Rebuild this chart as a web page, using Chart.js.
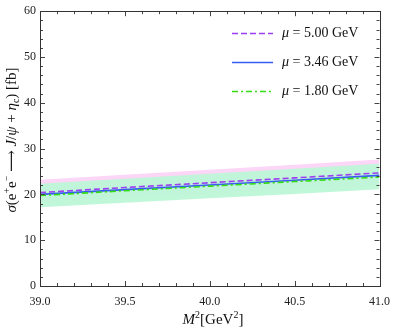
<!DOCTYPE html>
<html><head><meta charset="utf-8">
<script src="https://cdn.jsdelivr.net/npm/chart.js@4.4.0/dist/chart.umd.min.js"></script>
<style>html,body{margin:0;padding:0;background:#fff}#w{width:399px;height:334px}</style>
</head><body><div id="w"><canvas id="c"></canvas></div>
<script>
const xs = [39.0, 39.5, 40.0, 40.5, 41.0];
const mu500 = [20.4, 21.5, 22.55, 23.6, 24.7];
const mu346 = [20.0, 21.05, 22.05, 23.1, 24.15];
const mu180 = [19.75, 20.8, 21.8, 22.8, 23.8];
const pinkLow = [18.4, 19.3, 20.2, 21.1, 22.0];
const pinkHigh = [23.2, 24.3, 25.4, 26.5, 27.6];
const greenLow = [17.2, 18.2, 19.15, 20.1, 21.1];
const greenHigh = [22.3, 23.4, 24.5, 25.6, 26.7];
const yTicks = [0, 10, 20, 30, 40, 50, 60];
const xTicks = [39.0, 39.5, 40.0, 40.5, 41.0];
const legendLabels = ["5.00", "3.46", "1.80"];

const pts = a => a.map((v, i) => ({x: xs[i], y: v}));
const SERIF = '"Liberation Serif","DejaVu Serif",serif';

const band = (data, fill, color) => ({data: pts(data), borderWidth: 0, pointRadius: 0, fill: fill, backgroundColor: color, tension: 0});
const line = (data, color, dash, w) => ({data: pts(data), borderColor: color, borderDash: dash, borderWidth: w, pointRadius: 0, fill: false, tension: 0});

const datasets = [
  band(greenLow, false, 'rgba(0,0,0,0)'),
  band(greenHigh, '-1', 'rgba(190,247,215,0.95)'),
  band(pinkLow, false, 'rgba(0,0,0,0)'),
  band(pinkHigh, '-1', 'rgba(252,214,246,1)'),
  line(mu180, '#33dd11', [6, 3, 2, 3], 1.6),
  line(mu346, '#3a5cf2', [], 1.6),
  line(mu500, '#9b3ff0', [6, 3], 1.6)
];

function drawRuns(ctx, runs, x, y, align) {
  let total = 0;
  runs.forEach(r => { ctx.font = r[1] + ' ' + r[2] + 'px ' + SERIF; total += ctx.measureText(r[0]).width; });
  let cx = align === 'center' ? x - total / 2 : x;
  ctx.textBaseline = 'middle';
  ctx.textAlign = 'left';
  runs.forEach(r => {
    ctx.font = r[1] + ' ' + r[2] + 'px ' + SERIF;
    ctx.fillText(r[0], cx, y + (r[3] || 0));
    cx += ctx.measureText(r[0]).width;
  });
}

const deco = {
  id: 'deco',
  afterDraw(chart) {
    const ctx = chart.ctx, a = chart.chartArea;
    const xs_ = chart.scales.x, ys_ = chart.scales.y;
    ctx.save();
    ctx.strokeStyle = '#444';
    ctx.lineWidth = 1;
    ctx.beginPath();
    for (let k = 0; k <= 20; k++) {
      const v = 39 + k * 0.1;
      const px = Math.round(xs_.getPixelForValue(v)) + 0.5;
      const len = (k % 5 === 0) ? 5 : 3;
      ctx.moveTo(px, a.bottom); ctx.lineTo(px, a.bottom - len);
      ctx.moveTo(px, a.top); ctx.lineTo(px, a.top + len);
    }
    for (let k = 0; k <= 30; k++) {
      const v = k * 2;
      const py = Math.round(ys_.getPixelForValue(v)) + 0.5;
      const len = (k % 5 === 0) ? 5 : 3;
      ctx.moveTo(a.left, py); ctx.lineTo(a.left + len, py);
      ctx.moveTo(a.right, py); ctx.lineTo(a.right - len, py);
    }
    ctx.stroke();
    ctx.strokeStyle = '#333';
    ctx.strokeRect(Math.round(a.left) + 0.5, Math.round(a.top) + 0.5, Math.round(a.right - a.left), Math.round(a.bottom - a.top));

    ctx.fillStyle = '#111';
    const lineDs = [6, 5, 4];
    lineDs.forEach((di, i) => {
      const ds = chart.data.datasets[di];
      const y = 33 + i * 29;
      ctx.beginPath();
      ctx.strokeStyle = ds.borderColor;
      ctx.lineWidth = ds.borderWidth;
      ctx.setLineDash(ds.borderDash);
      ctx.moveTo(232, y + 0.5); ctx.lineTo(273, y + 0.5);
      ctx.stroke();
      ctx.setLineDash([]);
      drawRuns(ctx, [['μ', 'italic', 14], [' = ' + legendLabels[i] + ' GeV', 'normal', 14]], 282, y, 'left');
    });

    ctx.fillStyle = '#111';
    drawRuns(ctx, [['M', 'italic', 15], ['2', 'normal', 10, -5], ['[GeV', 'normal', 15], ['2', 'normal', 10, -5], [']', 'normal', 15]], 213, 320, 'center');
    ctx.save();
    ctx.translate(12, 140);
    ctx.rotate(-Math.PI / 2);
    drawRuns(ctx, [['σ', 'italic', 15], ['(', 'normal', 15], ['e', 'normal', 15], ['+', 'normal', 10, -5], ['e', 'normal', 15], ['−', 'normal', 10, -5],
      [' ⟶ ', 'normal', 15], ['J', 'italic', 15], ['/', 'normal', 15], ['ψ', 'italic', 15], [' + ', 'normal', 15], ['η', 'italic', 15], ['c', 'normal', 10, 4],
      [') [fb]', 'normal', 15]], 0, 0, 'center');
    ctx.restore();
    ctx.restore();
  }
};

new Chart(document.getElementById('c'), {
  type: 'line',
  data: {datasets},
  options: {
    responsive: true, maintainAspectRatio: false, animation: false,
    layout: {padding: {top: 10, right: 11, left: 0, bottom: 0}},
    plugins: {legend: {display: false}, tooltip: {enabled: false}, filler: {drawTime: 'beforeDatasetsDraw'}},
    scales: {
      x: {
        type: 'linear', min: 39, max: 41,
        grid: {display: false, drawTicks: false},
        border: {display: false},
        afterBuildTicks: s => { s.ticks = xTicks.map(v => ({value: v})); },
        afterFit: s => { s.height = 48; },
        ticks: {padding: 9, color: '#222', font: {family: SERIF, size: 12}, maxRotation: 0, callback: v => v.toFixed(1)}
      },
      y: {
        min: 0, max: 60,
        grid: {display: false, drawTicks: false},
        border: {display: false},
        afterBuildTicks: s => { s.ticks = yTicks.map(v => ({value: v})); },
        afterFit: s => { s.width = 40; },
        ticks: {padding: 4, color: '#222', font: {family: SERIF, size: 12}}
      }
    }
  },
  plugins: [deco]
});
</script>
</body></html>
